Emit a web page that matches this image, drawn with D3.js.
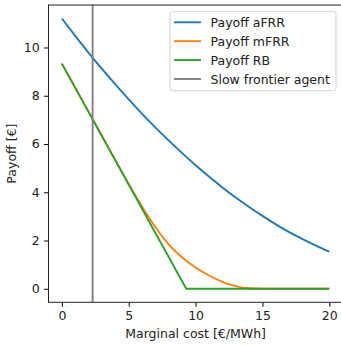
<!DOCTYPE html>
<html>
<head>
<meta charset="utf-8">
<script src="https://cdn.jsdelivr.net/npm/d3@7/dist/d3.min.js"></script>
<style>
  html, body { margin: 0; padding: 0; background: #fff; }
  svg { display: block; font-family: "DejaVu Sans", sans-serif; }
</style>
</head>
<body>
<svg id="chart" width="341" height="346"></svg>
<script>
// Marginal cost grid [€/MWh]
const cost = [0, 1, 2, 3, 4, 5, 6, 7, 8, 9, 10, 11, 12, 13, 14, 15, 16, 17, 18, 19, 20];

// Payoff [€] per market
const payoffAFRR = [11.20, 10.48, 9.78, 9.11, 8.47, 7.85, 7.25, 6.68, 6.14, 5.62, 5.12,
                    4.65, 4.20, 3.78, 3.39, 3.02, 2.67, 2.35, 2.06, 1.79, 1.54];
const payoffMFRR = [9.33, 8.33, 7.33, 6.33, 5.33, 4.34, 3.40, 2.55, 1.83, 1.30, 0.88,
                    0.55, 0.29, 0.11, 0.02, 0, 0, 0, 0, 0, 0];
// RB payoff is piecewise linear: drops to zero at 9.3 €/MWh
const rbCost = [0, 9.3, 20];
const payoffRB = [9.33, 0, 0];

// Slow frontier agent marginal cost
const frontierCost = 2.3;

const xTicks = [0, 5, 10, 15, 20];
const yTicks = [0, 2, 4, 6, 8, 10];

const series = [
  { name: "Payoff aFRR", color: "#1f77b4", xs: cost, ys: payoffAFRR, curve: d3.curveMonotoneX },
  { name: "Payoff mFRR", color: "#ff7f0e", xs: cost, ys: payoffMFRR, curve: d3.curveMonotoneX },
  { name: "Payoff RB",   color: "#2ca02c", xs: rbCost, ys: payoffRB, curve: d3.curveLinear }
];

const svg = d3.select("#chart");
const m = { left: 48.5, right: 342.7, top: 5, bottom: 302.3 };

const x = d3.scaleLinear().domain([-1, 21]).range([m.left, m.right]);
const y = d3.scaleLinear().domain([-0.56, 11.76]).range([m.bottom, m.top]);

const plot = svg.append("g");

// clip to axes area
svg.append("defs").append("clipPath").attr("id", "clip")
  .append("rect").attr("x", m.left).attr("y", m.top)
  .attr("width", m.right - m.left).attr("height", m.bottom - m.top);

const lines = plot.append("g").attr("clip-path", "url(#clip)");

series.forEach(s => {
  const pts = s.xs.map((c, i) => [c, s.ys[i]]);
  lines.append("path")
    .datum(pts)
    .attr("fill", "none")
    .attr("stroke", s.color)
    .attr("stroke-width", 1.9)
    .attr("stroke-linejoin", "round")
    .attr("stroke-linecap", "butt")
    .attr("d", d3.line().x(d => x(d[0])).y(d => y(d[1])).curve(s.curve));
});

// vertical marker for the slow frontier agent
lines.append("line")
  .attr("x1", x(frontierCost)).attr("x2", x(frontierCost))
  .attr("y1", m.top).attr("y2", m.bottom)
  .attr("stroke", "#808080").attr("stroke-width", 1.9);

// axes
const xAxis = d3.axisBottom(x).tickValues(xTicks).tickSize(4.4).tickPadding(4.4).tickSizeOuter(0);
const yAxis = d3.axisLeft(y).tickValues(yTicks).tickSize(4.4).tickPadding(4.4).tickSizeOuter(0);

const gx = svg.append("g").attr("transform", `translate(0,${m.bottom})`).call(xAxis);
const gy = svg.append("g").attr("transform", `translate(${m.left},0)`).call(yAxis);

[gx, gy].forEach(g => {
  g.select(".domain").remove();
  g.selectAll(".tick line").attr("stroke", "#000").attr("stroke-width", 1);
  g.selectAll(".tick text").attr("fill", "#222").style("font-size", "12.5px")
    .style("font-family", "'DejaVu Sans', sans-serif");
});

// spines
svg.append("rect")
  .attr("x", m.left).attr("y", m.top)
  .attr("width", m.right - m.left).attr("height", m.bottom - m.top)
  .attr("fill", "none").attr("stroke", "#222").attr("stroke-width", 1);

// axis labels
svg.append("text")
  .attr("x", (m.left + m.right) / 2).attr("y", 337.5)
  .attr("text-anchor", "middle").attr("fill", "#222")
  .style("font-size", "12.5px")
  .text("Marginal cost [€/MWh]");

svg.append("text")
  .attr("transform", `translate(15.5,${(m.top + m.bottom) / 2}) rotate(-90)`)
  .attr("text-anchor", "middle").attr("fill", "#222")
  .style("font-size", "12.5px")
  .text("Payoff [€]");

// legend
const legendItems = series.map(s => ({ name: s.name, color: s.color }))
  .concat([{ name: "Slow frontier agent", color: "#808080" }]);

const lg = svg.append("g");
lg.append("rect")
  .attr("x", 170).attr("y", 11.7).attr("width", 166).attr("height", 79)
  .attr("rx", 2.5).attr("fill", "#fff").attr("fill-opacity", 0.8)
  .attr("stroke", "#d0d0d0").attr("stroke-width", 1);

legendItems.forEach((d, i) => {
  const yy = 22.3 + i * 18.9;
  lg.append("line").attr("x1", 174).attr("x2", 201).attr("y1", yy).attr("y2", yy)
    .attr("stroke", d.color).attr("stroke-width", 1.9);
  lg.append("text").attr("x", 210.5).attr("y", yy).attr("dy", "0.36em")
    .attr("fill", "#222").style("font-size", "12.5px").text(d.name);
});
</script>
</body>
</html>
